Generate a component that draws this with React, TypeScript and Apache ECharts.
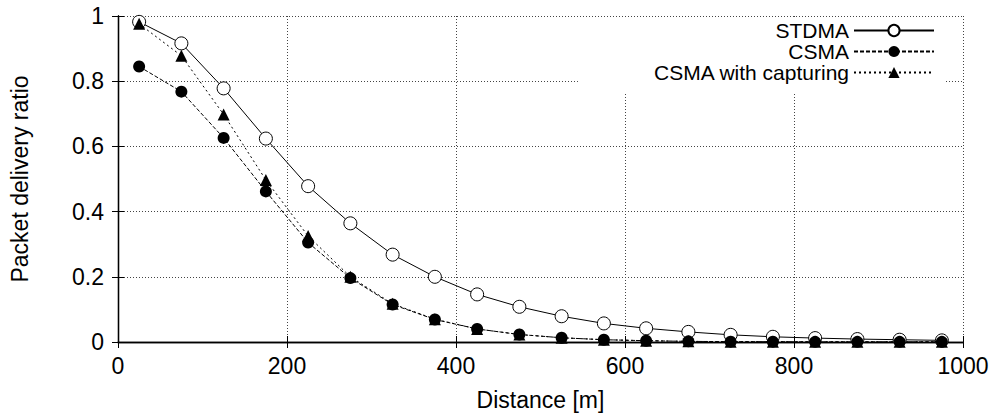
import React, { useEffect, useRef } from "react";
import * as echarts from "echarts";

const distances = [25, 75, 125, 175, 225, 275, 325, 375, 425, 475, 525, 575, 625, 675, 725, 775, 825, 875, 925, 975];
const stdma = [0.982, 0.916, 0.778, 0.624, 0.478, 0.364, 0.268, 0.2, 0.146, 0.108, 0.079, 0.057, 0.042, 0.031, 0.022, 0.016, 0.012, 0.009, 0.007, 0.005];
const csma = [0.845, 0.768, 0.626, 0.462, 0.305, 0.196, 0.115, 0.069, 0.04, 0.023, 0.013, 0.007, 0.004, 0.002, 0.001, 0.001, 0.0005, 0.0005, 0.0005, 0.0005];
const csmaCap = [0.976, 0.878, 0.698, 0.497, 0.325, 0.2, 0.117, 0.07, 0.04, 0.023, 0.013, 0.007, 0.004, 0.002, 0.001, 0.001, 0.0005, 0.0005, 0.0005, 0.0005];
const seriesNames = ["STDMA", "CSMA", "CSMA with capturing"];
const xTitle = "Distance [m]";
const yTitle = "Packet delivery ratio";

const FONT = "Liberation Sans, Arial, Helvetica, sans-serif";

export default function App() {
  const ref = useRef<HTMLDivElement>(null);
  useEffect(() => {
    if (!ref.current) return;
    const chart = echarts.init(ref.current, undefined, { renderer: "svg" });
    const pair = (vals: number[]) => distances.map((d, i) => [d, vals[i]]);
    const gridLine = { show: true, lineStyle: { color: "#444", type: [1, 2] as any, width: 1 } };
    const frameLine = { show: true, lineStyle: { color: "#000", width: 1.3 } };
    const tick = { show: true, inside: true, length: 6, lineStyle: { color: "#000", width: 1 } };
    const label = { color: "#000", fontSize: 23, fontFamily: FONT };
    const legendText = { color: "#000", fontSize: 21, fontFamily: FONT, lineHeight: 21 };
    const legendBase = {
      orient: "vertical" as const,
      align: "right" as const,
      itemWidth: 80,
      itemHeight: 14,
      itemGap: 0,
      selectedMode: false,
      textStyle: legendText,
    };
    chart.setOption({
      animation: false,
      backgroundColor: "#fff",
      grid: { left: 118, right: 35, top: 16, bottom: 75 },
      xAxis: [
        {
          type: "value",
          min: 0,
          max: 1000,
          interval: 200,
          position: "bottom",
          name: xTitle,
          nameLocation: "middle",
          nameGap: 46,
          nameTextStyle: label,
          axisLine: frameLine,
          axisTick: tick,
          axisLabel: { ...label, margin: 12, formatter: (v: number) => String(v) },
          splitLine: gridLine,
        },
        {
          type: "value",
          min: 0,
          max: 1000,
          interval: 200,
          position: "top",
          axisLine: frameLine,
          axisTick: tick,
          axisLabel: { show: false },
          splitLine: { show: false },
        },
      ],
      yAxis: [
        {
          type: "value",
          min: 0,
          max: 1,
          interval: 0.2,
          position: "left",
          name: yTitle,
          nameLocation: "middle",
          nameGap: 87,
          nameTextStyle: label,
          axisLine: frameLine,
          axisTick: tick,
          axisLabel: { ...label, margin: 14, formatter: (v: number) => String(Math.round(v * 10) / 10) },
          splitLine: gridLine,
        },
        {
          type: "value",
          min: 0,
          max: 1,
          interval: 0.2,
          position: "right",
          axisLine: frameLine,
          axisTick: tick,
          axisLabel: { show: false },
          splitLine: { show: false },
        },
      ],
      legend: [
        {
          ...legendBase,
          data: [seriesNames[2]],
          right: 53,
          top: 18,
          padding: [44, 10, 9, 75],
          backgroundColor: "#fff",
          z: 4,
        },
        {
          ...legendBase,
          data: [seriesNames[1]],
          right: 63,
          top: 41,
          padding: 0,
          z: 6,
        },
        {
          ...legendBase,
          data: [seriesNames[0]],
          right: 63,
          top: 20,
          padding: 0,
          z: 6,
        },
      ],
      series: [
        {
          name: seriesNames[0],
          type: "line",
          data: pair(stdma),
          symbol: "circle",
          symbolSize: 13,
          lineStyle: { color: "#000", width: 1, type: "solid" },
          itemStyle: { color: "#fff", borderColor: "#000", borderWidth: 1 },
          z: 3,
        },
        {
          name: seriesNames[2],
          type: "line",
          data: pair(csmaCap),
          symbol: "triangle",
          symbolSize: 12,
          lineStyle: { color: "#000", width: 1, type: [2, 3] },
          itemStyle: { color: "#000", borderColor: "#000", borderWidth: 0 },
          z: 3,
        },
        {
          name: seriesNames[1],
          type: "line",
          data: pair(csma),
          symbol: "circle",
          symbolSize: 12,
          lineStyle: { color: "#000", width: 1, type: [4, 2] },
          itemStyle: { color: "#000", borderColor: "#000", borderWidth: 0 },
          z: 4,
        },
      ],
    });
    return () => chart.dispose();
  }, []);
  return <div ref={ref} style={{ width: 998, height: 417, position: "absolute", left: 0, top: 0 }} />;
}
